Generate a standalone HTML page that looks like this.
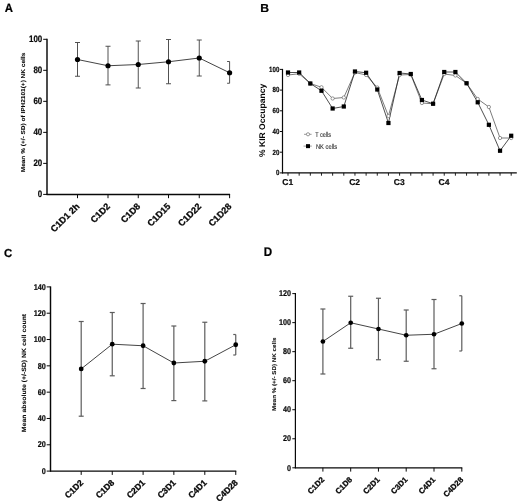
<!DOCTYPE html>
<html><head><meta charset="utf-8"><style>
html,body{margin:0;padding:0;background:#fff;}
svg{display:block;filter:grayscale(1) blur(0.35px);text-rendering:geometricPrecision;font-family:"Liberation Sans",sans-serif;}
</style></head><body>
<svg width="520" height="503" viewBox="0 0 520 503">
<rect width="520" height="503" fill="#fff"/>
<text transform="translate(4.8,12.0) scale(1.0,1.05)" font-size="11.4" font-weight="bold" fill="#000" stroke="#000" stroke-width="0.2">A</text>
<text transform="translate(260.2,12.0) scale(1.07,1.01)" font-size="11.4" font-weight="bold" fill="#000" stroke="#000" stroke-width="0.2">B</text>
<text transform="translate(4.0,256.8) scale(1.0,1.02)" font-size="11.4" font-weight="bold" fill="#000" stroke="#000" stroke-width="0.2">C</text>
<text transform="translate(263.7,255.7) scale(1.02,1.1)" font-size="11.4" font-weight="bold" fill="#000" stroke="#000" stroke-width="0.2">D</text>
<line x1="47.00" y1="38.80" x2="47.00" y2="194.90" stroke="#080808" stroke-width="1.45"/>
<line x1="46.50" y1="194.40" x2="230.10" y2="194.40" stroke="#080808" stroke-width="1.45"/>
<line x1="43.20" y1="194.40" x2="47.00" y2="194.40" stroke="#080808" stroke-width="1.0"/>
<text transform="translate(42.30,197.47) scale(0.85,1)" font-size="9.4" font-weight="bold" text-anchor="end" fill="#080808" stroke="#080808" stroke-width="0.2">0</text>
<line x1="43.20" y1="163.38" x2="47.00" y2="163.38" stroke="#080808" stroke-width="1.0"/>
<text transform="translate(42.30,166.45) scale(0.85,1)" font-size="9.4" font-weight="bold" text-anchor="end" fill="#080808" stroke="#080808" stroke-width="0.2">20</text>
<line x1="43.20" y1="132.36" x2="47.00" y2="132.36" stroke="#080808" stroke-width="1.0"/>
<text transform="translate(42.30,135.43) scale(0.85,1)" font-size="9.4" font-weight="bold" text-anchor="end" fill="#080808" stroke="#080808" stroke-width="0.2">40</text>
<line x1="43.20" y1="101.34" x2="47.00" y2="101.34" stroke="#080808" stroke-width="1.0"/>
<text transform="translate(42.30,104.41) scale(0.85,1)" font-size="9.4" font-weight="bold" text-anchor="end" fill="#080808" stroke="#080808" stroke-width="0.2">60</text>
<line x1="43.20" y1="70.32" x2="47.00" y2="70.32" stroke="#080808" stroke-width="1.0"/>
<text transform="translate(42.30,73.39) scale(0.85,1)" font-size="9.4" font-weight="bold" text-anchor="end" fill="#080808" stroke="#080808" stroke-width="0.2">80</text>
<line x1="43.20" y1="39.30" x2="47.00" y2="39.30" stroke="#080808" stroke-width="1.0"/>
<text transform="translate(42.30,42.37) scale(0.85,1)" font-size="9.4" font-weight="bold" text-anchor="end" fill="#080808" stroke="#080808" stroke-width="0.2">100</text>
<line x1="77.50" y1="194.40" x2="77.50" y2="198.20" stroke="#080808" stroke-width="1.0"/>
<line x1="108.00" y1="194.40" x2="108.00" y2="198.20" stroke="#080808" stroke-width="1.0"/>
<line x1="138.25" y1="194.40" x2="138.25" y2="198.20" stroke="#080808" stroke-width="1.0"/>
<line x1="168.50" y1="194.40" x2="168.50" y2="198.20" stroke="#080808" stroke-width="1.0"/>
<line x1="199.25" y1="194.40" x2="199.25" y2="198.20" stroke="#080808" stroke-width="1.0"/>
<line x1="229.60" y1="194.40" x2="229.60" y2="198.20" stroke="#080808" stroke-width="1.0"/>
<line x1="77.50" y1="42.50" x2="77.50" y2="76.25" stroke="#484848" stroke-width="0.95"/>
<line x1="75.00" y1="42.50" x2="80.00" y2="42.50" stroke="#484848" stroke-width="0.95"/>
<line x1="75.00" y1="76.25" x2="80.00" y2="76.25" stroke="#484848" stroke-width="0.95"/>
<line x1="108.00" y1="46.25" x2="108.00" y2="84.90" stroke="#484848" stroke-width="0.95"/>
<line x1="105.50" y1="46.25" x2="110.50" y2="46.25" stroke="#484848" stroke-width="0.95"/>
<line x1="105.50" y1="84.90" x2="110.50" y2="84.90" stroke="#484848" stroke-width="0.95"/>
<line x1="138.25" y1="41.00" x2="138.25" y2="88.00" stroke="#484848" stroke-width="0.95"/>
<line x1="135.75" y1="41.00" x2="140.75" y2="41.00" stroke="#484848" stroke-width="0.95"/>
<line x1="135.75" y1="88.00" x2="140.75" y2="88.00" stroke="#484848" stroke-width="0.95"/>
<line x1="168.50" y1="39.50" x2="168.50" y2="83.75" stroke="#484848" stroke-width="0.95"/>
<line x1="166.00" y1="39.50" x2="171.00" y2="39.50" stroke="#484848" stroke-width="0.95"/>
<line x1="166.00" y1="83.75" x2="171.00" y2="83.75" stroke="#484848" stroke-width="0.95"/>
<line x1="199.25" y1="40.00" x2="199.25" y2="76.00" stroke="#484848" stroke-width="0.95"/>
<line x1="196.75" y1="40.00" x2="201.75" y2="40.00" stroke="#484848" stroke-width="0.95"/>
<line x1="196.75" y1="76.00" x2="201.75" y2="76.00" stroke="#484848" stroke-width="0.95"/>
<line x1="229.60" y1="61.50" x2="229.60" y2="83.25" stroke="#484848" stroke-width="0.95"/>
<line x1="227.10" y1="61.50" x2="229.60" y2="61.50" stroke="#484848" stroke-width="0.95"/>
<line x1="227.10" y1="83.25" x2="229.60" y2="83.25" stroke="#484848" stroke-width="0.95"/>
<polyline points="77.50,59.50 108.00,65.75 138.25,64.50 168.50,61.75 199.25,58.00 229.60,72.75" fill="none" stroke="#222" stroke-width="0.85"/>
<circle cx="77.50" cy="59.50" r="2.6" fill="#000"/>
<circle cx="108.00" cy="65.75" r="2.6" fill="#000"/>
<circle cx="138.25" cy="64.50" r="2.6" fill="#000"/>
<circle cx="168.50" cy="61.75" r="2.6" fill="#000"/>
<circle cx="199.25" cy="58.00" r="2.6" fill="#000"/>
<circle cx="229.60" cy="72.75" r="2.6" fill="#000"/>
<text transform="translate(80.10,207.00) rotate(-45)" font-size="9.1" font-weight="bold" text-anchor="end" fill="#080808" stroke="#080808" stroke-width="0.3">C1D1 2h</text>
<text transform="translate(110.60,207.00) rotate(-45)" font-size="9.1" font-weight="bold" text-anchor="end" fill="#080808" stroke="#080808" stroke-width="0.3">C1D2</text>
<text transform="translate(140.85,207.00) rotate(-45)" font-size="9.1" font-weight="bold" text-anchor="end" fill="#080808" stroke="#080808" stroke-width="0.3">C1D8</text>
<text transform="translate(171.10,207.00) rotate(-45)" font-size="9.1" font-weight="bold" text-anchor="end" fill="#080808" stroke="#080808" stroke-width="0.3">C1D15</text>
<text transform="translate(201.85,207.00) rotate(-45)" font-size="9.1" font-weight="bold" text-anchor="end" fill="#080808" stroke="#080808" stroke-width="0.3">C1D22</text>
<text transform="translate(232.20,207.00) rotate(-45)" font-size="9.1" font-weight="bold" text-anchor="end" fill="#080808" stroke="#080808" stroke-width="0.3">C1D28</text>
<text transform="translate(25.00,112.50) rotate(-90) scale(1.13,1)" font-size="5.760" font-weight="bold" text-anchor="middle" fill="#080808" stroke="#080808" stroke-width="0.08">Mean % (+/- SD) of IPH2101(+) NK cells</text>
<line x1="50.50" y1="286.40" x2="50.50" y2="471.60" stroke="#080808" stroke-width="1.45"/>
<line x1="50.00" y1="471.10" x2="236.25" y2="471.10" stroke="#080808" stroke-width="1.45"/>
<line x1="46.70" y1="471.10" x2="50.50" y2="471.10" stroke="#080808" stroke-width="1.0"/>
<text transform="translate(45.80,473.81) scale(0.87,1)" font-size="8.4" font-weight="bold" text-anchor="end" fill="#080808" stroke="#080808" stroke-width="0.2">0</text>
<line x1="46.70" y1="444.79" x2="50.50" y2="444.79" stroke="#080808" stroke-width="1.0"/>
<text transform="translate(45.80,447.49) scale(0.87,1)" font-size="8.4" font-weight="bold" text-anchor="end" fill="#080808" stroke="#080808" stroke-width="0.2">20</text>
<line x1="46.70" y1="418.47" x2="50.50" y2="418.47" stroke="#080808" stroke-width="1.0"/>
<text transform="translate(45.80,421.18) scale(0.87,1)" font-size="8.4" font-weight="bold" text-anchor="end" fill="#080808" stroke="#080808" stroke-width="0.2">40</text>
<line x1="46.70" y1="392.16" x2="50.50" y2="392.16" stroke="#080808" stroke-width="1.0"/>
<text transform="translate(45.80,394.86) scale(0.87,1)" font-size="8.4" font-weight="bold" text-anchor="end" fill="#080808" stroke="#080808" stroke-width="0.2">60</text>
<line x1="46.70" y1="365.84" x2="50.50" y2="365.84" stroke="#080808" stroke-width="1.0"/>
<text transform="translate(45.80,368.55) scale(0.87,1)" font-size="8.4" font-weight="bold" text-anchor="end" fill="#080808" stroke="#080808" stroke-width="0.2">80</text>
<line x1="46.70" y1="339.53" x2="50.50" y2="339.53" stroke="#080808" stroke-width="1.0"/>
<text transform="translate(45.80,342.24) scale(0.87,1)" font-size="8.4" font-weight="bold" text-anchor="end" fill="#080808" stroke="#080808" stroke-width="0.2">100</text>
<line x1="46.70" y1="313.21" x2="50.50" y2="313.21" stroke="#080808" stroke-width="1.0"/>
<text transform="translate(45.80,315.92) scale(0.87,1)" font-size="8.4" font-weight="bold" text-anchor="end" fill="#080808" stroke="#080808" stroke-width="0.2">120</text>
<line x1="46.70" y1="286.90" x2="50.50" y2="286.90" stroke="#080808" stroke-width="1.0"/>
<text transform="translate(45.80,289.61) scale(0.87,1)" font-size="8.4" font-weight="bold" text-anchor="end" fill="#080808" stroke="#080808" stroke-width="0.2">140</text>
<line x1="81.20" y1="471.10" x2="81.20" y2="474.90" stroke="#080808" stroke-width="1.0"/>
<line x1="112.25" y1="471.10" x2="112.25" y2="474.90" stroke="#080808" stroke-width="1.0"/>
<line x1="143.10" y1="471.10" x2="143.10" y2="474.90" stroke="#080808" stroke-width="1.0"/>
<line x1="173.85" y1="471.10" x2="173.85" y2="474.90" stroke="#080808" stroke-width="1.0"/>
<line x1="204.80" y1="471.10" x2="204.80" y2="474.90" stroke="#080808" stroke-width="1.0"/>
<line x1="235.75" y1="471.10" x2="235.75" y2="474.90" stroke="#080808" stroke-width="1.0"/>
<line x1="81.20" y1="321.50" x2="81.20" y2="416.20" stroke="#5c5c5c" stroke-width="1.2"/>
<line x1="78.70" y1="321.50" x2="83.70" y2="321.50" stroke="#5c5c5c" stroke-width="1.2"/>
<line x1="78.70" y1="416.20" x2="83.70" y2="416.20" stroke="#5c5c5c" stroke-width="1.2"/>
<line x1="112.25" y1="312.50" x2="112.25" y2="375.80" stroke="#5c5c5c" stroke-width="1.2"/>
<line x1="109.75" y1="312.50" x2="114.75" y2="312.50" stroke="#5c5c5c" stroke-width="1.2"/>
<line x1="109.75" y1="375.80" x2="114.75" y2="375.80" stroke="#5c5c5c" stroke-width="1.2"/>
<line x1="143.10" y1="303.50" x2="143.10" y2="388.50" stroke="#5c5c5c" stroke-width="1.2"/>
<line x1="140.60" y1="303.50" x2="145.60" y2="303.50" stroke="#5c5c5c" stroke-width="1.2"/>
<line x1="140.60" y1="388.50" x2="145.60" y2="388.50" stroke="#5c5c5c" stroke-width="1.2"/>
<line x1="173.85" y1="326.00" x2="173.85" y2="400.60" stroke="#5c5c5c" stroke-width="1.2"/>
<line x1="171.35" y1="326.00" x2="176.35" y2="326.00" stroke="#5c5c5c" stroke-width="1.2"/>
<line x1="171.35" y1="400.60" x2="176.35" y2="400.60" stroke="#5c5c5c" stroke-width="1.2"/>
<line x1="204.80" y1="322.25" x2="204.80" y2="400.90" stroke="#5c5c5c" stroke-width="1.2"/>
<line x1="202.30" y1="322.25" x2="207.30" y2="322.25" stroke="#5c5c5c" stroke-width="1.2"/>
<line x1="202.30" y1="400.90" x2="207.30" y2="400.90" stroke="#5c5c5c" stroke-width="1.2"/>
<line x1="235.75" y1="334.50" x2="235.75" y2="355.00" stroke="#5c5c5c" stroke-width="1.2"/>
<line x1="233.25" y1="334.50" x2="235.75" y2="334.50" stroke="#5c5c5c" stroke-width="1.2"/>
<line x1="233.25" y1="355.00" x2="235.75" y2="355.00" stroke="#5c5c5c" stroke-width="1.2"/>
<polyline points="81.20,368.90 112.25,344.20 143.10,345.75 173.85,363.00 204.80,361.25 235.75,344.75" fill="none" stroke="#222" stroke-width="0.85"/>
<circle cx="81.20" cy="368.90" r="2.4" fill="#000"/>
<circle cx="112.25" cy="344.20" r="2.4" fill="#000"/>
<circle cx="143.10" cy="345.75" r="2.4" fill="#000"/>
<circle cx="173.85" cy="363.00" r="2.4" fill="#000"/>
<circle cx="204.80" cy="361.25" r="2.4" fill="#000"/>
<circle cx="235.75" cy="344.75" r="2.4" fill="#000"/>
<text transform="translate(83.80,483.30) rotate(-45)" font-size="8.6" font-weight="bold" text-anchor="end" fill="#080808" stroke="#080808" stroke-width="0.3">C1D2</text>
<text transform="translate(114.85,483.30) rotate(-45)" font-size="8.6" font-weight="bold" text-anchor="end" fill="#080808" stroke="#080808" stroke-width="0.3">C1D8</text>
<text transform="translate(145.70,483.30) rotate(-45)" font-size="8.6" font-weight="bold" text-anchor="end" fill="#080808" stroke="#080808" stroke-width="0.3">C2D1</text>
<text transform="translate(176.45,483.30) rotate(-45)" font-size="8.6" font-weight="bold" text-anchor="end" fill="#080808" stroke="#080808" stroke-width="0.3">C3D1</text>
<text transform="translate(207.40,483.30) rotate(-45)" font-size="8.6" font-weight="bold" text-anchor="end" fill="#080808" stroke="#080808" stroke-width="0.3">C4D1</text>
<text transform="translate(238.35,483.30) rotate(-45)" font-size="8.6" font-weight="bold" text-anchor="end" fill="#080808" stroke="#080808" stroke-width="0.3">C4D28</text>
<text transform="translate(26.20,373.00) rotate(-90) scale(1.13,1)" font-size="6.120" font-weight="bold" text-anchor="middle" fill="#080808" stroke="#080808" stroke-width="0.08">Mean absolute (+/-SD) NK cell count</text>
<line x1="295.40" y1="293.10" x2="295.40" y2="468.30" stroke="#080808" stroke-width="1.2"/>
<line x1="294.90" y1="467.80" x2="462.30" y2="467.80" stroke="#080808" stroke-width="1.2"/>
<line x1="292.30" y1="467.80" x2="295.40" y2="467.80" stroke="#080808" stroke-width="1.0"/>
<text transform="translate(291.10,470.51) scale(0.86,1)" font-size="8.4" font-weight="bold" text-anchor="end" fill="#080808" stroke="#080808" stroke-width="0.2">0</text>
<line x1="292.30" y1="438.77" x2="295.40" y2="438.77" stroke="#080808" stroke-width="1.0"/>
<text transform="translate(291.10,441.47) scale(0.86,1)" font-size="8.4" font-weight="bold" text-anchor="end" fill="#080808" stroke="#080808" stroke-width="0.2">20</text>
<line x1="292.30" y1="409.73" x2="295.40" y2="409.73" stroke="#080808" stroke-width="1.0"/>
<text transform="translate(291.10,412.44) scale(0.86,1)" font-size="8.4" font-weight="bold" text-anchor="end" fill="#080808" stroke="#080808" stroke-width="0.2">40</text>
<line x1="292.30" y1="380.70" x2="295.40" y2="380.70" stroke="#080808" stroke-width="1.0"/>
<text transform="translate(291.10,383.41) scale(0.86,1)" font-size="8.4" font-weight="bold" text-anchor="end" fill="#080808" stroke="#080808" stroke-width="0.2">60</text>
<line x1="292.30" y1="351.67" x2="295.40" y2="351.67" stroke="#080808" stroke-width="1.0"/>
<text transform="translate(291.10,354.37) scale(0.86,1)" font-size="8.4" font-weight="bold" text-anchor="end" fill="#080808" stroke="#080808" stroke-width="0.2">80</text>
<line x1="292.30" y1="322.63" x2="295.40" y2="322.63" stroke="#080808" stroke-width="1.0"/>
<text transform="translate(291.10,325.34) scale(0.86,1)" font-size="8.4" font-weight="bold" text-anchor="end" fill="#080808" stroke="#080808" stroke-width="0.2">100</text>
<line x1="292.30" y1="293.60" x2="295.40" y2="293.60" stroke="#080808" stroke-width="1.0"/>
<text transform="translate(291.10,296.31) scale(0.86,1)" font-size="8.4" font-weight="bold" text-anchor="end" fill="#080808" stroke="#080808" stroke-width="0.2">120</text>
<line x1="322.90" y1="467.80" x2="322.90" y2="471.60" stroke="#080808" stroke-width="1.0"/>
<line x1="350.70" y1="467.80" x2="350.70" y2="471.60" stroke="#080808" stroke-width="1.0"/>
<line x1="378.45" y1="467.80" x2="378.45" y2="471.60" stroke="#080808" stroke-width="1.0"/>
<line x1="406.20" y1="467.80" x2="406.20" y2="471.60" stroke="#080808" stroke-width="1.0"/>
<line x1="434.00" y1="467.80" x2="434.00" y2="471.60" stroke="#080808" stroke-width="1.0"/>
<line x1="461.80" y1="467.80" x2="461.80" y2="471.60" stroke="#080808" stroke-width="1.0"/>
<line x1="322.90" y1="309.00" x2="322.90" y2="374.00" stroke="#5c5c5c" stroke-width="1.2"/>
<line x1="320.40" y1="309.00" x2="325.40" y2="309.00" stroke="#5c5c5c" stroke-width="1.2"/>
<line x1="320.40" y1="374.00" x2="325.40" y2="374.00" stroke="#5c5c5c" stroke-width="1.2"/>
<line x1="350.70" y1="296.25" x2="350.70" y2="348.25" stroke="#5c5c5c" stroke-width="1.2"/>
<line x1="348.20" y1="296.25" x2="353.20" y2="296.25" stroke="#5c5c5c" stroke-width="1.2"/>
<line x1="348.20" y1="348.25" x2="353.20" y2="348.25" stroke="#5c5c5c" stroke-width="1.2"/>
<line x1="378.45" y1="298.25" x2="378.45" y2="359.75" stroke="#5c5c5c" stroke-width="1.2"/>
<line x1="375.95" y1="298.25" x2="380.95" y2="298.25" stroke="#5c5c5c" stroke-width="1.2"/>
<line x1="375.95" y1="359.75" x2="380.95" y2="359.75" stroke="#5c5c5c" stroke-width="1.2"/>
<line x1="406.20" y1="310.00" x2="406.20" y2="361.25" stroke="#5c5c5c" stroke-width="1.2"/>
<line x1="403.70" y1="310.00" x2="408.70" y2="310.00" stroke="#5c5c5c" stroke-width="1.2"/>
<line x1="403.70" y1="361.25" x2="408.70" y2="361.25" stroke="#5c5c5c" stroke-width="1.2"/>
<line x1="434.00" y1="299.50" x2="434.00" y2="368.75" stroke="#5c5c5c" stroke-width="1.2"/>
<line x1="431.50" y1="299.50" x2="436.50" y2="299.50" stroke="#5c5c5c" stroke-width="1.2"/>
<line x1="431.50" y1="368.75" x2="436.50" y2="368.75" stroke="#5c5c5c" stroke-width="1.2"/>
<line x1="461.80" y1="295.75" x2="461.80" y2="351.00" stroke="#5c5c5c" stroke-width="1.2"/>
<line x1="459.30" y1="295.75" x2="461.80" y2="295.75" stroke="#5c5c5c" stroke-width="1.2"/>
<line x1="459.30" y1="351.00" x2="461.80" y2="351.00" stroke="#5c5c5c" stroke-width="1.2"/>
<polyline points="322.90,341.50 350.70,322.75 378.45,329.00 406.20,335.25 434.00,334.25 461.80,323.50" fill="none" stroke="#222" stroke-width="0.85"/>
<circle cx="322.90" cy="341.50" r="2.35" fill="#000"/>
<circle cx="350.70" cy="322.75" r="2.35" fill="#000"/>
<circle cx="378.45" cy="329.00" r="2.35" fill="#000"/>
<circle cx="406.20" cy="335.25" r="2.35" fill="#000"/>
<circle cx="434.00" cy="334.25" r="2.35" fill="#000"/>
<circle cx="461.80" cy="323.50" r="2.35" fill="#000"/>
<text transform="translate(324.80,480.30) rotate(-45)" font-size="7.8" font-weight="bold" text-anchor="end" fill="#080808" stroke="#080808" stroke-width="0.3">C1D2</text>
<text transform="translate(352.60,480.30) rotate(-45)" font-size="7.8" font-weight="bold" text-anchor="end" fill="#080808" stroke="#080808" stroke-width="0.3">C1D8</text>
<text transform="translate(380.35,480.30) rotate(-45)" font-size="7.8" font-weight="bold" text-anchor="end" fill="#080808" stroke="#080808" stroke-width="0.3">C2D1</text>
<text transform="translate(408.10,480.30) rotate(-45)" font-size="7.8" font-weight="bold" text-anchor="end" fill="#080808" stroke="#080808" stroke-width="0.3">C3D1</text>
<text transform="translate(435.90,480.30) rotate(-45)" font-size="7.8" font-weight="bold" text-anchor="end" fill="#080808" stroke="#080808" stroke-width="0.3">C4D1</text>
<text transform="translate(463.70,480.30) rotate(-45)" font-size="7.8" font-weight="bold" text-anchor="end" fill="#080808" stroke="#080808" stroke-width="0.3">C4D28</text>
<text transform="translate(276.00,374.30) rotate(-90) scale(1.13,1)" font-size="5.544" font-weight="bold" text-anchor="middle" fill="#080808" stroke="#080808" stroke-width="0.08">Mean % (+/- SD) NK cells</text>
<line x1="282.5" y1="68.9" x2="282.5" y2="173.4" stroke="#080808" stroke-width="1.2"/>
<line x1="282.0" y1="172.9" x2="516.8" y2="172.9" stroke="#080808" stroke-width="1.2"/>
<line x1="279.90" y1="172.90" x2="282.50" y2="172.90" stroke="#080808" stroke-width="1.0"/>
<text transform="translate(279.30,175.28) scale(0.82,1)" font-size="7.5" font-weight="bold" text-anchor="end" fill="#080808" stroke="#080808" stroke-width="0.2">0</text>
<line x1="279.90" y1="152.20" x2="282.50" y2="152.20" stroke="#080808" stroke-width="1.0"/>
<text transform="translate(279.30,154.59) scale(0.82,1)" font-size="7.5" font-weight="bold" text-anchor="end" fill="#080808" stroke="#080808" stroke-width="0.2">20</text>
<line x1="279.90" y1="131.50" x2="282.50" y2="131.50" stroke="#080808" stroke-width="1.0"/>
<text transform="translate(279.30,133.88) scale(0.82,1)" font-size="7.5" font-weight="bold" text-anchor="end" fill="#080808" stroke="#080808" stroke-width="0.2">40</text>
<line x1="279.90" y1="110.80" x2="282.50" y2="110.80" stroke="#080808" stroke-width="1.0"/>
<text transform="translate(279.30,113.19) scale(0.82,1)" font-size="7.5" font-weight="bold" text-anchor="end" fill="#080808" stroke="#080808" stroke-width="0.2">60</text>
<line x1="279.90" y1="90.10" x2="282.50" y2="90.10" stroke="#080808" stroke-width="1.0"/>
<text transform="translate(279.30,92.49) scale(0.82,1)" font-size="7.5" font-weight="bold" text-anchor="end" fill="#080808" stroke="#080808" stroke-width="0.2">80</text>
<line x1="279.90" y1="69.40" x2="282.50" y2="69.40" stroke="#080808" stroke-width="1.0"/>
<text transform="translate(279.30,71.79) scale(0.82,1)" font-size="7.5" font-weight="bold" text-anchor="end" fill="#080808" stroke="#080808" stroke-width="0.2">100</text>
<line x1="288.00" y1="172.9" x2="288.00" y2="175.70000000000002" stroke="#080808" stroke-width="0.9"/>
<line x1="299.16" y1="172.9" x2="299.16" y2="175.70000000000002" stroke="#080808" stroke-width="0.9"/>
<line x1="310.32" y1="172.9" x2="310.32" y2="175.70000000000002" stroke="#080808" stroke-width="0.9"/>
<line x1="321.48" y1="172.9" x2="321.48" y2="175.70000000000002" stroke="#080808" stroke-width="0.9"/>
<line x1="332.64" y1="172.9" x2="332.64" y2="175.70000000000002" stroke="#080808" stroke-width="0.9"/>
<line x1="343.80" y1="172.9" x2="343.80" y2="175.70000000000002" stroke="#080808" stroke-width="0.9"/>
<line x1="354.96" y1="172.9" x2="354.96" y2="175.70000000000002" stroke="#080808" stroke-width="0.9"/>
<line x1="366.12" y1="172.9" x2="366.12" y2="175.70000000000002" stroke="#080808" stroke-width="0.9"/>
<line x1="377.28" y1="172.9" x2="377.28" y2="175.70000000000002" stroke="#080808" stroke-width="0.9"/>
<line x1="388.44" y1="172.9" x2="388.44" y2="175.70000000000002" stroke="#080808" stroke-width="0.9"/>
<line x1="399.60" y1="172.9" x2="399.60" y2="175.70000000000002" stroke="#080808" stroke-width="0.9"/>
<line x1="410.76" y1="172.9" x2="410.76" y2="175.70000000000002" stroke="#080808" stroke-width="0.9"/>
<line x1="421.92" y1="172.9" x2="421.92" y2="175.70000000000002" stroke="#080808" stroke-width="0.9"/>
<line x1="433.08" y1="172.9" x2="433.08" y2="175.70000000000002" stroke="#080808" stroke-width="0.9"/>
<line x1="444.24" y1="172.9" x2="444.24" y2="175.70000000000002" stroke="#080808" stroke-width="0.9"/>
<line x1="455.40" y1="172.9" x2="455.40" y2="175.70000000000002" stroke="#080808" stroke-width="0.9"/>
<line x1="466.56" y1="172.9" x2="466.56" y2="175.70000000000002" stroke="#080808" stroke-width="0.9"/>
<line x1="477.72" y1="172.9" x2="477.72" y2="175.70000000000002" stroke="#080808" stroke-width="0.9"/>
<line x1="488.88" y1="172.9" x2="488.88" y2="175.70000000000002" stroke="#080808" stroke-width="0.9"/>
<line x1="500.04" y1="172.9" x2="500.04" y2="175.70000000000002" stroke="#080808" stroke-width="0.9"/>
<line x1="511.20" y1="172.9" x2="511.20" y2="175.70000000000002" stroke="#080808" stroke-width="0.9"/>
<polyline points="288.00,75.00 299.16,73.75 310.32,83.50 321.48,87.25 332.64,98.50 343.80,97.50 354.96,72.50 366.12,75.00 377.28,87.50 388.44,116.00 399.60,75.00 410.76,74.50 421.92,103.00 433.08,103.75 444.24,74.00 455.40,75.50 466.56,83.25 477.72,99.00 488.88,107.00 500.04,138.00 511.20,138.00" fill="none" stroke="#444" stroke-width="0.7"/>
<polyline points="288.00,72.50 299.16,72.50 310.32,83.50 321.48,90.75 332.64,108.50 343.80,106.50 354.96,71.50 366.12,72.75 377.28,89.50 388.44,123.00 399.60,73.00 410.76,74.00 421.92,100.00 433.08,103.75 444.24,72.00 455.40,72.00 466.56,83.25 477.72,102.30 488.88,124.80 500.04,150.75 511.20,135.75" fill="none" stroke="#222" stroke-width="0.8"/>
<circle cx="288.00" cy="75.00" r="1.65" fill="#fff" stroke="#555" stroke-width="0.6"/>
<circle cx="299.16" cy="73.75" r="1.65" fill="#fff" stroke="#555" stroke-width="0.6"/>
<circle cx="310.32" cy="83.50" r="1.65" fill="#fff" stroke="#555" stroke-width="0.6"/>
<circle cx="321.48" cy="87.25" r="1.65" fill="#fff" stroke="#555" stroke-width="0.6"/>
<circle cx="332.64" cy="98.50" r="1.65" fill="#fff" stroke="#555" stroke-width="0.6"/>
<circle cx="343.80" cy="97.50" r="1.65" fill="#fff" stroke="#555" stroke-width="0.6"/>
<circle cx="354.96" cy="72.50" r="1.65" fill="#fff" stroke="#555" stroke-width="0.6"/>
<circle cx="366.12" cy="75.00" r="1.65" fill="#fff" stroke="#555" stroke-width="0.6"/>
<circle cx="377.28" cy="87.50" r="1.65" fill="#fff" stroke="#555" stroke-width="0.6"/>
<circle cx="388.44" cy="116.00" r="1.65" fill="#fff" stroke="#555" stroke-width="0.6"/>
<circle cx="399.60" cy="75.00" r="1.65" fill="#fff" stroke="#555" stroke-width="0.6"/>
<circle cx="410.76" cy="74.50" r="1.65" fill="#fff" stroke="#555" stroke-width="0.6"/>
<circle cx="421.92" cy="103.00" r="1.65" fill="#fff" stroke="#555" stroke-width="0.6"/>
<circle cx="433.08" cy="103.75" r="1.65" fill="#fff" stroke="#555" stroke-width="0.6"/>
<circle cx="444.24" cy="74.00" r="1.65" fill="#fff" stroke="#555" stroke-width="0.6"/>
<circle cx="455.40" cy="75.50" r="1.65" fill="#fff" stroke="#555" stroke-width="0.6"/>
<circle cx="466.56" cy="83.25" r="1.65" fill="#fff" stroke="#555" stroke-width="0.6"/>
<circle cx="477.72" cy="99.00" r="1.65" fill="#fff" stroke="#555" stroke-width="0.6"/>
<circle cx="488.88" cy="107.00" r="1.65" fill="#fff" stroke="#555" stroke-width="0.6"/>
<circle cx="500.04" cy="138.00" r="1.65" fill="#fff" stroke="#555" stroke-width="0.6"/>
<circle cx="511.20" cy="138.00" r="1.65" fill="#fff" stroke="#555" stroke-width="0.6"/>
<rect x="285.90" y="70.40" width="4.2" height="4.2" fill="#000"/>
<rect x="297.06" y="70.40" width="4.2" height="4.2" fill="#000"/>
<rect x="308.22" y="81.40" width="4.2" height="4.2" fill="#000"/>
<rect x="319.38" y="88.65" width="4.2" height="4.2" fill="#000"/>
<rect x="330.54" y="106.40" width="4.2" height="4.2" fill="#000"/>
<rect x="341.70" y="104.40" width="4.2" height="4.2" fill="#000"/>
<rect x="352.86" y="69.40" width="4.2" height="4.2" fill="#000"/>
<rect x="364.02" y="70.65" width="4.2" height="4.2" fill="#000"/>
<rect x="375.18" y="87.40" width="4.2" height="4.2" fill="#000"/>
<rect x="386.34" y="120.90" width="4.2" height="4.2" fill="#000"/>
<rect x="397.50" y="70.90" width="4.2" height="4.2" fill="#000"/>
<rect x="408.66" y="71.90" width="4.2" height="4.2" fill="#000"/>
<rect x="419.82" y="97.90" width="4.2" height="4.2" fill="#000"/>
<rect x="430.98" y="101.65" width="4.2" height="4.2" fill="#000"/>
<rect x="442.14" y="69.90" width="4.2" height="4.2" fill="#000"/>
<rect x="453.30" y="69.90" width="4.2" height="4.2" fill="#000"/>
<rect x="464.46" y="81.15" width="4.2" height="4.2" fill="#000"/>
<rect x="475.62" y="100.20" width="4.2" height="4.2" fill="#000"/>
<rect x="486.78" y="122.70" width="4.2" height="4.2" fill="#000"/>
<rect x="497.94" y="148.65" width="4.2" height="4.2" fill="#000"/>
<rect x="509.10" y="133.65" width="4.2" height="4.2" fill="#000"/>
<text x="287.70" y="185.1" font-size="8.5" font-weight="bold" text-anchor="middle" fill="#080808" stroke="#080808" stroke-width="0.2">C1</text>
<text x="354.66" y="185.1" font-size="8.5" font-weight="bold" text-anchor="middle" fill="#080808" stroke="#080808" stroke-width="0.2">C2</text>
<text x="399.30" y="185.1" font-size="8.5" font-weight="bold" text-anchor="middle" fill="#080808" stroke="#080808" stroke-width="0.2">C3</text>
<text x="443.94" y="185.1" font-size="8.5" font-weight="bold" text-anchor="middle" fill="#080808" stroke="#080808" stroke-width="0.2">C4</text>
<text transform="translate(265.2,120.4) rotate(-90) scale(1.03,1)" font-size="8.3" font-weight="bold" text-anchor="middle" fill="#080808">% KIR Occupancy</text>
<line x1="304" y1="134.3" x2="311.6" y2="134.3" stroke="#555" stroke-width="0.6"/>
<circle cx="308" cy="134.3" r="1.6" fill="#fff" stroke="#555" stroke-width="0.6"/>
<text transform="translate(315.2,137.1) scale(0.78,1)" font-size="7.0" fill="#333" stroke="#333" stroke-width="0.12">T cells</text>
<line x1="303.5" y1="146.1" x2="311.8" y2="146.1" stroke="#555" stroke-width="0.6"/>
<rect x="306" y="144.15" width="4" height="4" fill="#000"/>
<text transform="translate(315.9,148.8) scale(0.825,1)" font-size="7.0" fill="#333" stroke="#333" stroke-width="0.12">NK cells</text>
</svg>
</body></html>
